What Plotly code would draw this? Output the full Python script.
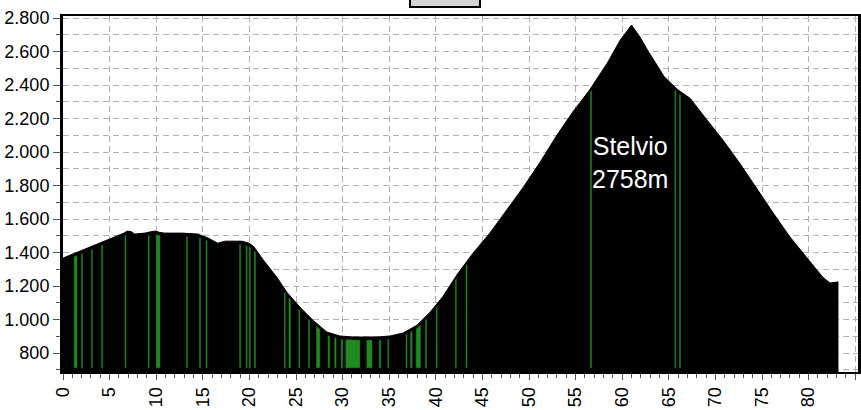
import numpy as np
import plotly.graph_objects as go

# elevation profile (km, m)
km = [0, 1.3, 2.7, 4.2, 5.6, 6.5, 6.9, 7.3, 7.7, 8.8, 9.5, 9.9, 10.4, 10.9, 12.8,
      14.5, 15.6, 16.2, 16.6, 17.4, 19.2, 20.0, 20.5, 21.5, 23.0, 24.0, 25.4, 26.8,
      28.3, 29.7, 31.1, 33.7, 35.1, 36.5, 38.0, 39.4, 40.8, 42.3, 44.0, 45.8, 47.6,
      49.4, 51.2, 53.0, 54.7, 56.5, 58.4, 59.8, 61.0, 61.9, 62.7, 63.7, 64.5, 65.9,
      67.3, 69.1, 70.8, 72.6, 74.5, 76.2, 78.0, 79.8, 81.5, 82.3, 83.2]
elev = [1367, 1397, 1427, 1463, 1493, 1515, 1528, 1525, 1510, 1516, 1525, 1528, 1520,
        1516, 1516, 1510, 1486, 1465, 1456, 1468, 1468, 1455, 1433, 1355, 1248, 1164,
        1075, 997, 926, 902, 896, 896, 902, 920, 967, 1045, 1140, 1270, 1397, 1516,
        1654, 1791, 1940, 2101, 2239, 2370, 2531, 2669, 2758, 2687, 2610, 2520, 2450,
        2375, 2320, 2191, 2072, 1934, 1773, 1636, 1493, 1373, 1254, 1218, 1225]

# green (flat) sections: start / end km
green_start = [1.2, 2.0, 3.05, 4.15, 6.65, 9.15, 10.0, 13.25, 14.65, 15.35, 18.95, 19.65,
               20.0, 20.55, 23.75, 24.25, 25.3, 26.35, 27.2, 28.45, 29.15, 29.85, 30.35,
               32.6, 33.95, 34.85, 36.8, 37.3, 37.9, 38.9, 40.05, 42.1, 43.25, 56.6,
               65.65, 66.15]
green_end = [1.5, 2.1, 3.15, 4.25, 6.75, 9.25, 10.4, 13.35, 14.75, 15.45, 19.05, 19.75,
             20.1, 20.65, 23.85, 24.4, 25.4, 26.45, 27.55, 28.6, 29.3, 30.0, 31.85,
             33.15, 34.1, 34.95, 36.9, 37.45, 38.35, 39.0, 40.15, 42.2, 43.35, 56.7,
             65.75, 66.25]

y_ticks = [800, 1000, 1200, 1400, 1600, 1800, 2000, 2200, 2400, 2600, 2800]
x_ticks = list(range(0, 90, 5))

base = 712
gx, gy = [], []
for s, e in zip(green_start, green_end):
    ts = np.interp(s, km, elev) - 20
    te = np.interp(e, km, elev) - 20
    gx += [s, s, e, e, s, None]
    gy += [base, ts, te, base, base, None]

fig = go.Figure()
fig.add_trace(go.Scatter(x=km, y=elev, mode="lines", fill="tozeroy",
                         fillcolor="black", line=dict(color="black", width=1),
                         hoverinfo="skip"))
fig.add_trace(go.Scatter(x=gx, y=gy, mode="lines", fill="toself",
                         fillcolor="#1f8a1f", line=dict(color="#1f8a1f", width=0.5),
                         hoverinfo="skip"))

fig.add_annotation(x=60.8, y=1935, text="Stelvio<br>2758m", showarrow=False,
                   font=dict(family="Liberation Sans, Arial", size=25, color="white"))

# small grey box at the top
fig.add_shape(type="rect", xref="paper", yref="paper", x0=0.4365, x1=0.5245,
              y0=1.025, y1=1.07, fillcolor="#d4d4d4", line=dict(color="black", width=2))

tickfont = dict(family="Liberation Sans, Arial", size=18, color="black")
grid = dict(showgrid=True, gridcolor="#b0b0b0", griddash="6px,4px", gridwidth=1)
fig.update_layout(
    width=861, height=410,
    margin=dict(l=63, r=3, t=16, b=38),
    plot_bgcolor="white", paper_bgcolor="white",
    showlegend=False,
    separators=",.",
    xaxis=dict(range=[0, 85.3], tickvals=x_ticks, tickangle=-90, tickfont=tickfont,
               ticks="outside", ticklen=6, tickcolor="#555", showline=True,
               linecolor="black", linewidth=2, mirror=True, zeroline=False,
               automargin=False, **grid,
               minor=dict(dtick=1, ticks="outside", ticklen=4, tickcolor="#555",
                          showgrid=False)),
    yaxis=dict(range=[687, 2812], tickvals=y_ticks, tickformat=",d", tickfont=tickfont,
               ticks="outside", ticklen=7, tickcolor="#555", showline=True,
               linecolor="black", linewidth=3, mirror=True, zeroline=False,
               automargin=False, **grid,
               minor=dict(dtick=100, ticks="outside", ticklen=4, tickcolor="#555",
                          showgrid=True, gridcolor="#b0b0b0", griddash="6px,4px")),
)

fig.write_html("out.html", config={"displayModeBar": False},
               post_script="document.body.style.margin='0px';document.body.style.overflow='hidden';")
